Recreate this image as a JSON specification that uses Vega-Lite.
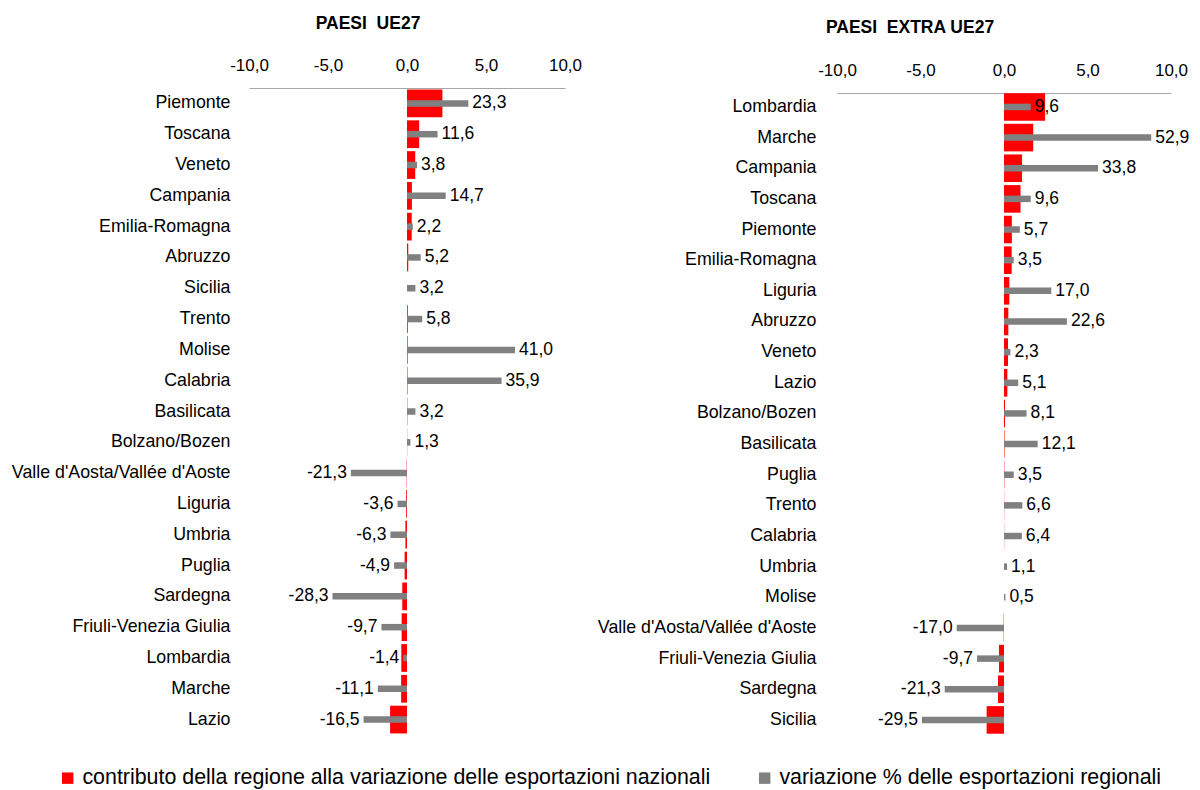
{
  "$schema": "https://vega.github.io/schema/vega-lite/v6.json",
  "padding": {"left": 11, "top": 14, "right": 0, "bottom": 5},
  "background": "white",
  "config": {
    "font": "Liberation Sans",
    "locale": {"number": {"decimal": ",", "thousands": ".", "grouping": [3], "currency": ["€", ""], "minus": "-"}},
    "view": {"stroke": null},
    "text": {"fontSize": 17.5, "color": "#000000"}
  },
  "datasets": {
    "ue": [
      {"regione": "Piemonte", "contributo": 2.24, "variazione": 23.3},
      {"regione": "Toscana", "contributo": 0.77, "variazione": 11.6},
      {"regione": "Veneto", "contributo": 0.52, "variazione": 3.8},
      {"regione": "Campania", "contributo": 0.31, "variazione": 14.7},
      {"regione": "Emilia-Romagna", "contributo": 0.30, "variazione": 2.2},
      {"regione": "Abruzzo", "contributo": 0.08, "variazione": 5.2},
      {"regione": "Sicilia", "contributo": 0.0, "variazione": 3.2},
      {"regione": "Trento", "contributo": 0.05, "variazione": 5.8},
      {"regione": "Molise", "contributo": 0.04, "variazione": 41.0},
      {"regione": "Calabria", "contributo": 0.03, "variazione": 35.9},
      {"regione": "Basilicata", "contributo": 0.02, "variazione": 3.2},
      {"regione": "Bolzano/Bozen", "contributo": 0.01, "variazione": 1.3},
      {"regione": "Valle d'Aosta/Vallée d'Aoste", "contributo": -0.02, "variazione": -21.3},
      {"regione": "Liguria", "contributo": -0.05, "variazione": -3.6},
      {"regione": "Umbria", "contributo": -0.1, "variazione": -6.3},
      {"regione": "Puglia", "contributo": -0.15, "variazione": -4.9},
      {"regione": "Sardegna", "contributo": -0.3, "variazione": -28.3},
      {"regione": "Friuli-Venezia Giulia", "contributo": -0.34, "variazione": -9.7},
      {"regione": "Lombardia", "contributo": -0.36, "variazione": -1.4},
      {"regione": "Marche", "contributo": -0.37, "variazione": -11.1},
      {"regione": "Lazio", "contributo": -1.07, "variazione": -16.5}
    ],
    "extra": [
      {"regione": "Lombardia", "contributo": 2.46, "variazione": 9.6},
      {"regione": "Marche", "contributo": 1.75, "variazione": 52.9},
      {"regione": "Campania", "contributo": 1.08, "variazione": 33.8},
      {"regione": "Toscana", "contributo": 0.99, "variazione": 9.6},
      {"regione": "Piemonte", "contributo": 0.47, "variazione": 5.7},
      {"regione": "Emilia-Romagna", "contributo": 0.46, "variazione": 3.5},
      {"regione": "Liguria", "contributo": 0.32, "variazione": 17.0},
      {"regione": "Abruzzo", "contributo": 0.26, "variazione": 22.6},
      {"regione": "Veneto", "contributo": 0.24, "variazione": 2.3},
      {"regione": "Lazio", "contributo": 0.2, "variazione": 5.1},
      {"regione": "Bolzano/Bozen", "contributo": 0.06, "variazione": 8.1},
      {"regione": "Basilicata", "contributo": 0.03, "variazione": 12.1},
      {"regione": "Puglia", "contributo": 0.02, "variazione": 3.5},
      {"regione": "Trento", "contributo": 0.01, "variazione": 6.6},
      {"regione": "Calabria", "contributo": 0.01, "variazione": 6.4},
      {"regione": "Umbria", "contributo": 0.0, "variazione": 1.1},
      {"regione": "Molise", "contributo": 0.0, "variazione": 0.5},
      {"regione": "Valle d'Aosta/Vallée d'Aoste", "contributo": -0.02, "variazione": -17.0},
      {"regione": "Friuli-Venezia Giulia", "contributo": -0.3, "variazione": -9.7},
      {"regione": "Sardegna", "contributo": -0.36, "variazione": -21.3},
      {"regione": "Sicilia", "contributo": -1.04, "variazione": -29.5}
    ]
  },
  "bounds": "flush",
  "spacing": 272,
  "resolve": {"scale": {"color": "shared"}},
  "hconcat": [
    {
      "width": 316,
      "height": 647,
      "data": {"name": "ue"},
      "title": {"text": "PAESI\u00a0 UE27", "fontSize": 17.5, "fontWeight": "bold", "color": "#000000", "anchor": "middle", "dx": -39, "offset": 24},
      "encoding": {
        "y": {"field": "regione", "type": "nominal", "sort": null,
          "scale": {"paddingInner": 0.1, "paddingOuter": 0.05},
          "axis": {"title": null, "domain": false, "ticks": false, "labelFontSize": 17.8, "labelColor": "#000000", "labelPadding": 19, "labelLimit": 0}}
      },
      "resolve": {"scale": {"x": "independent"}},
      "layer": [
        {
          "mark": {"type": "bar"},
          "encoding": {
            "x": {"field": "contributo", "type": "quantitative", "scale": {"domain": [-10, 10], "nice": false, "zero": false},
              "axis": {"orient": "top", "title": null, "grid": false, "ticks": false, "values": [-10, -5, 0, 5, 10], "format": ".1f",
                "domainColor": "#a6a6a6", "labelFontSize": 17, "labelColor": "#000000", "labelPadding": 18, "labelBaseline": "alphabetic", "labelFlush": false}},
            "color": {"datum": "contributo della regione alla variazione delle esportazioni nazionali", "type": "nominal",
              "scale": {"domain": ["contributo della regione alla variazione delle esportazioni nazionali", "variazione % delle esportazioni regionali"], "range": ["#ff0000", "#808080"]},
              "legend": {"title": null, "orient": "none", "legendX": -192, "legendY": 679, "direction": "horizontal", "symbolType": "square", "symbolSize": 130, "symbolStrokeWidth": 0, "labelFontSize": 21.4, "labelColor": "#000000", "labelOffset": 4, "columnPadding": 43, "labelLimit": 0}}
          }
        },
        {
          "mark": {"type": "rule", "color": "#a6a6a6", "strokeWidth": 1},
          "encoding": {"x": {"datum": 0, "type": "quantitative", "scale": {"domain": [-10, 10], "nice": false}, "axis": null}}
        },
        {
          "mark": {"type": "bar", "height": 6.5},
          "encoding": {
            "x": {"field": "variazione", "type": "quantitative", "scale": {"domain": [-60, 60], "nice": false}, "axis": null},
            "color": {"datum": "variazione % delle esportazioni regionali", "type": "nominal"}
          }
        },
        {
          "transform": [{"filter": "datum.variazione >= 0"}],
          "mark": {"type": "text", "align": "left", "baseline": "middle", "dx": 4},
          "encoding": {
            "x": {"field": "variazione", "type": "quantitative", "scale": {"domain": [-60, 60], "nice": false}, "axis": null},
            "text": {"field": "variazione", "type": "quantitative", "format": ".1f"}
          }
        },
        {
          "transform": [{"filter": "datum.variazione < 0"}],
          "mark": {"type": "text", "align": "right", "baseline": "middle", "dx": -4},
          "encoding": {
            "x": {"field": "variazione", "type": "quantitative", "scale": {"domain": [-60, 60], "nice": false}, "axis": null},
            "text": {"field": "variazione", "type": "quantitative", "format": ".1f"}
          }
        }
      ]
    },
    {
      "width": 334,
      "height": 647,
      "data": {"name": "extra"},
      "title": {"text": "PAESI\u00a0 EXTRA UE27", "fontSize": 17.5, "fontWeight": "bold", "color": "#000000", "anchor": "middle", "dx": -94, "offset": 25},
      "encoding": {
        "y": {"field": "regione", "type": "nominal", "sort": null,
          "scale": {"paddingInner": 0.1, "paddingOuter": 0.105, "align": 0.8},
          "axis": {"title": null, "domain": false, "ticks": false, "labelFontSize": 17.8, "labelColor": "#000000", "labelPadding": 21, "labelLimit": 0}}
      },
      "resolve": {"scale": {"x": "independent"}},
      "layer": [
        {
          "mark": {"type": "bar"},
          "encoding": {
            "x": {"field": "contributo", "type": "quantitative", "scale": {"domain": [-10, 10], "nice": false, "zero": false},
              "axis": {"orient": "top", "title": null, "grid": false, "ticks": false, "values": [-10, -5, 0, 5, 10], "format": ".1f", "offset": -5,
                "domainColor": "#a6a6a6", "labelFontSize": 17, "labelColor": "#000000", "labelPadding": 18, "labelBaseline": "alphabetic", "labelFlush": false}},
            "color": {"datum": "contributo della regione alla variazione delle esportazioni nazionali", "type": "nominal"}
          }
        },
        {
          "mark": {"type": "rule", "color": "#a6a6a6", "strokeWidth": 1},
          "encoding": {"x": {"datum": 0, "type": "quantitative", "scale": {"domain": [-10, 10], "nice": false}, "axis": null}}
        },
        {
          "mark": {"type": "bar", "height": 6.5},
          "encoding": {
            "x": {"field": "variazione", "type": "quantitative", "scale": {"domain": [-60, 60], "nice": false}, "axis": null},
            "color": {"datum": "variazione % delle esportazioni regionali", "type": "nominal"}
          }
        },
        {
          "transform": [{"filter": "datum.variazione >= 0"}],
          "mark": {"type": "text", "align": "left", "baseline": "middle", "dx": 4},
          "encoding": {
            "x": {"field": "variazione", "type": "quantitative", "scale": {"domain": [-60, 60], "nice": false}, "axis": null},
            "text": {"field": "variazione", "type": "quantitative", "format": ".1f"}
          }
        },
        {
          "transform": [{"filter": "datum.variazione < 0"}],
          "mark": {"type": "text", "align": "right", "baseline": "middle", "dx": -4},
          "encoding": {
            "x": {"field": "variazione", "type": "quantitative", "scale": {"domain": [-60, 60], "nice": false}, "axis": null},
            "text": {"field": "variazione", "type": "quantitative", "format": ".1f"}
          }
        }
      ]
    }
  ]
}
